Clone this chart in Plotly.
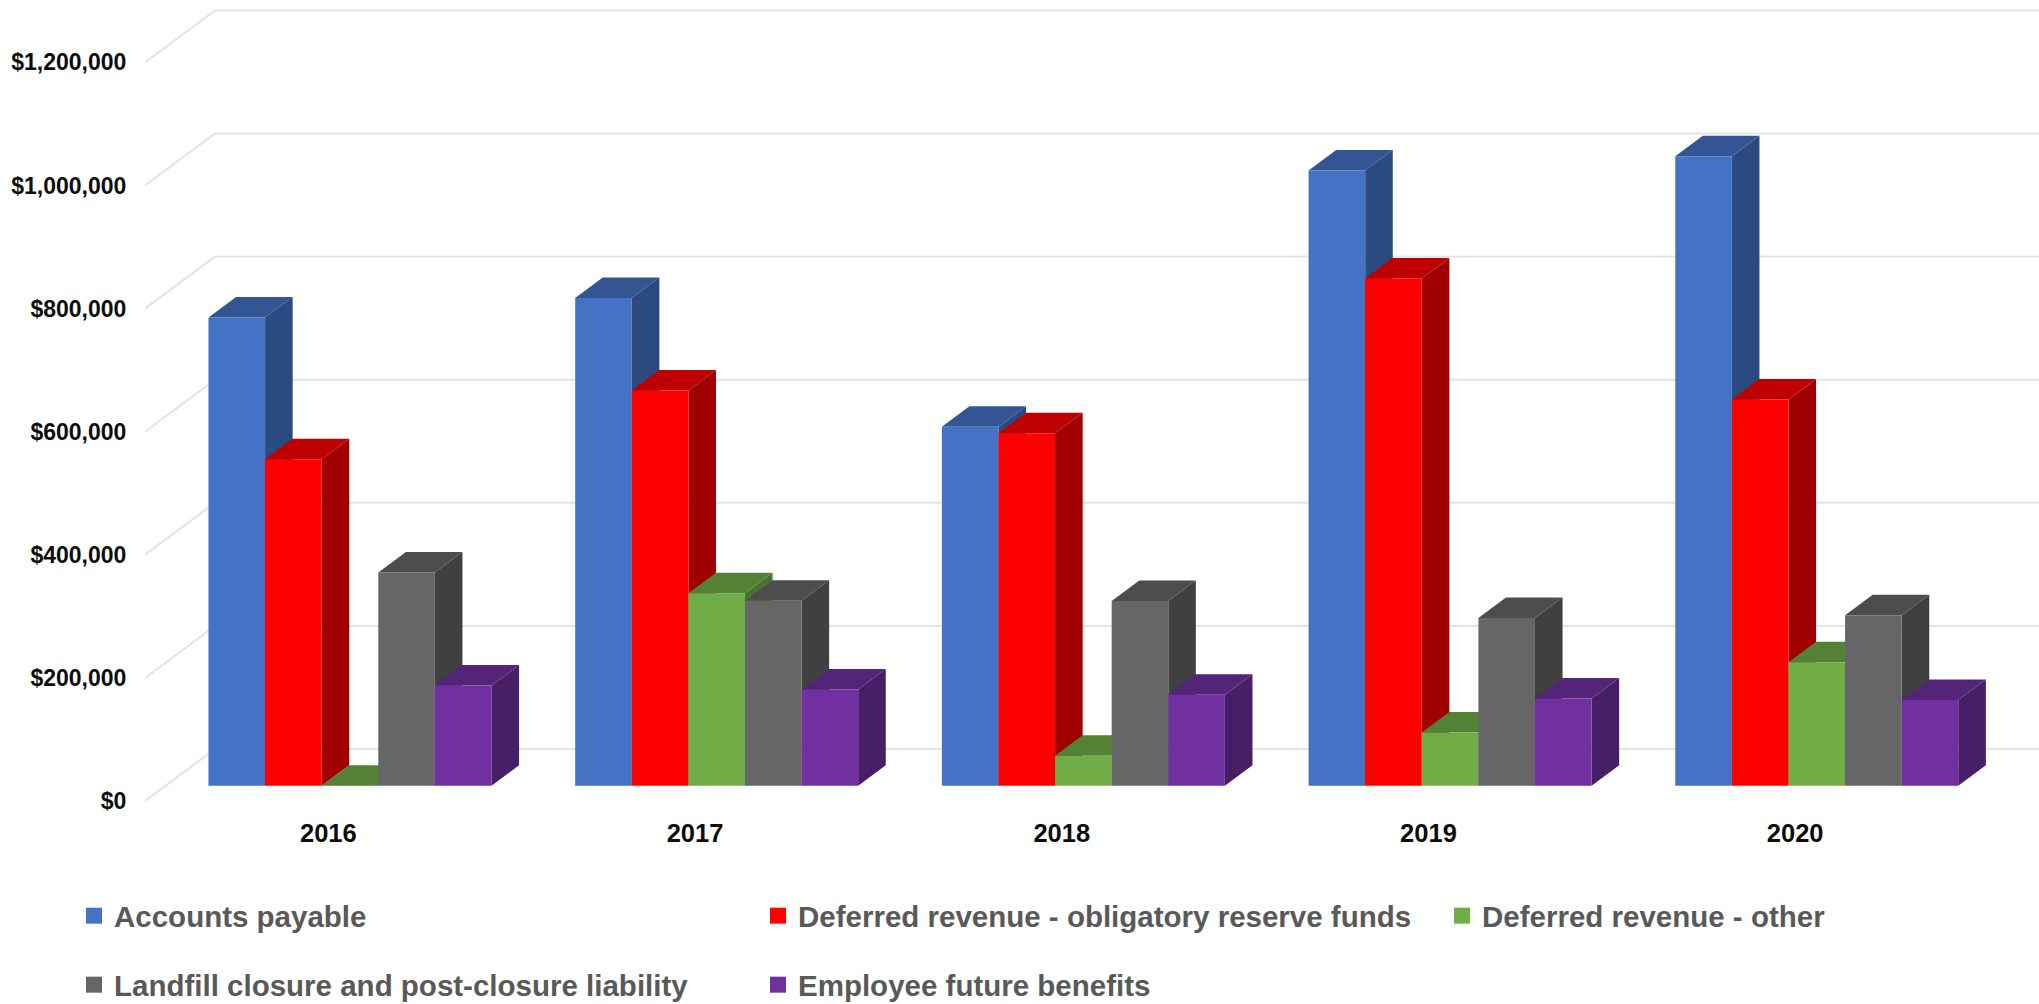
import plotly.graph_objects as go

# Reported liabilities by year
years = ["2016", "2017", "2018", "2019", "2020"]
accounts_payable = [760600, 792300, 583100, 999400, 1022600]
deferred_obligatory = [530300, 642300, 572600, 824000, 627500]
deferred_other = [0, 312700, 48600, 86600, 200700]
landfill_closure = [346500, 300600, 300000, 272600, 276800]
employee_benefits = [162700, 156300, 147900, 141600, 139400]

series_names = [
    "Accounts payable",
    "Deferred revenue - obligatory reserve funds",
    "Deferred revenue - other",
    "Landfill closure and post-closure liability",
    "Employee future benefits",
]
series_values = [
    accounts_payable,
    deferred_obligatory,
    deferred_other,
    landfill_closure,
    employee_benefits,
]
value_ticks = [0, 200000, 400000, 600000, 800000, 1000000, 1200000]
value_tick_labels = ["$0", "$200,000", "$400,000", "$600,000", "$800,000", "$1,000,000", "$1,200,000"]

# Face colours per series: front, top, side
front_colors = ["#4472C4", "#FF0000", "#70AD47", "#666666", "#7030A0"]
top_colors = ["#335593", "#BF0000", "#548235", "#4D4D4D", "#542478"]
side_colors = ["#2B4A80", "#A00000", "#497130", "#404040", "#471F66"]

WIDTH, HEIGHT = 2039, 1004
LEFT, BOTTOM_PX = 145, 801          # pixel position of the front-left floor corner
CAT_PX = 366.7                      # pixels per category
VALUE_PX = 123.1 / 200000           # pixels per currency unit

# Oblique projection: one full unit of depth moves this far along each axis
DEPTH_X = 70 / CAT_PX
DEPTH_Y = 52 / VALUE_PX
BAR_FRONT = 0.294                   # depth of a bar's front face
BAR_BACK = 0.688                    # depth of a bar's back face
BAR_W = 56.6 / CAT_PX
GROUP_PAD = 0.117

X_MAX = (WIDTH - LEFT) / CAT_PX
Y_MAX = BOTTOM_PX / VALUE_PX


def project(x, depth, value):
    return x + depth * DEPTH_X, value + depth * DEPTH_Y


fig = go.Figure()

# Walls and floor grid
GRID = "#E3E3E3"
for v in value_ticks:
    xs, ys = zip(project(0, 0, v), project(0, 1, v), project(len(years), 1, v))
    fig.add_trace(go.Scatter(x=xs, y=ys, mode="lines", line=dict(color=GRID, width=2),
                             hoverinfo="skip", showlegend=False, zorder=-1))

for k, (name, values) in enumerate(zip(series_names, series_values)):
    side_x, side_y, top_x, top_y = [], [], [], []
    centers, bases = [], []
    for i, v in enumerate(values):
        left = i + GROUP_PAD + k * BAR_W
        right = left + BAR_W
        fr = project(right, BAR_FRONT, 0)
        br = project(right, BAR_BACK, 0)
        frt = project(right, BAR_FRONT, v)
        brt = project(right, BAR_BACK, v)
        flt = project(left, BAR_FRONT, v)
        blt = project(left, BAR_BACK, v)
        for p in (fr, br, brt, frt, fr, (None, None)):
            side_x.append(p[0])
            side_y.append(p[1])
        for p in (flt, frt, brt, blt, flt, (None, None)):
            top_x.append(p[0])
            top_y.append(p[1])
        c = project(left + BAR_W / 2, BAR_FRONT, 0)
        centers.append(c[0])
        bases.append(c[1])

    for px, py, color in ((side_x, side_y, side_colors[k]), (top_x, top_y, top_colors[k])):
        fig.add_trace(go.Scatter(x=px, y=py, mode="lines", fill="toself", fillcolor=color,
                                 line=dict(width=0, color=color), hoverinfo="skip",
                                 showlegend=False, zorder=2 * k))
    fig.add_trace(go.Bar(x=centers, y=values, base=bases, width=BAR_W, name=name,
                         marker=dict(color=front_colors[k], line=dict(width=0)),
                         showlegend=False, zorder=2 * k + 1))

# One legend per entry, laid out in two rows with aligned columns
legend_slots = [(74, 916), (758, 916), (1442, 916), (74, 985), (758, 985)]
layout_legends = {}
for k, (name, (lx, ly)) in enumerate(zip(series_names, legend_slots)):
    key = "legend" if k == 0 else f"legend{k + 1}"
    fig.add_trace(go.Scatter(x=[None], y=[None], mode="markers", name=name, legend=key,
                             marker=dict(symbol="square", size=16, color=front_colors[k])))
    layout_legends[key] = dict(
        xref="container", yref="container", x=lx / WIDTH, y=1 - ly / HEIGHT,
        xanchor="left", yanchor="middle", bgcolor="rgba(0,0,0,0)",
        font=dict(family="Liberation Sans", size=29.5, color="#595959", weight=700),
    )

fig.update_layout(
    width=WIDTH, height=HEIGHT, barmode="overlay",
    margin=dict(l=LEFT, r=0, t=0, b=HEIGHT - BOTTOM_PX, autoexpand=False),
    paper_bgcolor="white", plot_bgcolor="white",
    xaxis=dict(range=[0, X_MAX], tickvals=[i + 0.5 for i in range(len(years))], ticktext=years,
               showgrid=False, zeroline=False, showline=False, ticks="outside", ticklen=9,
               tickcolor="rgba(0,0,0,0)",
               tickfont=dict(family="Liberation Sans", size=25.5, color="#0D0D0D", weight=700)),
    yaxis=dict(range=[0, Y_MAX], tickvals=value_ticks, ticktext=value_tick_labels,
               showgrid=False, zeroline=False, showline=False, ticks="outside", ticklen=13,
               tickcolor="rgba(0,0,0,0)",
               tickfont=dict(family="Liberation Sans", size=23, color="#0D0D0D", weight=700)),
    **layout_legends,
)

fig.write_html("out.html")
